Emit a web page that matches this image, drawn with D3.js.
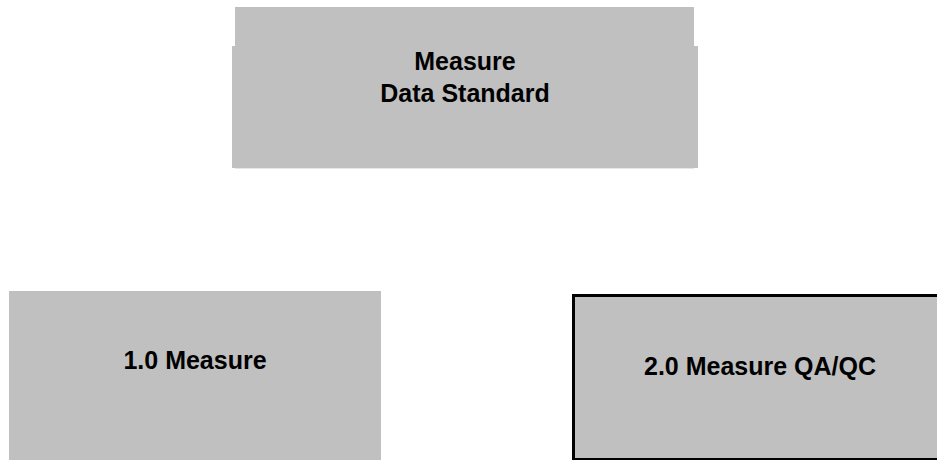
<!DOCTYPE html>
<html>
<head>
<meta charset="utf-8">
<script src="https://cdn.jsdelivr.net/npm/d3@7"></script>
<style>
  html, body { margin: 0; padding: 0; background: #fff; }
  svg { display: block; }
</style>
</head>
<body>
<svg id="chart"></svg>
<script>
// node data
var nodeIds = ["root", "measure", "qaqc"];
var nodeParents = [null, "root", "root"];
var nodeLabels = [["Measure", "Data Standard"], ["1.0 Measure"], ["2.0 Measure QA/QC"]];
var nodeOutlined = [false, false, true];

var w = 937, h = 460;
var fill = '#c0c0c0';

var rows = nodeIds.map(function(id, i) {
  return {id: id, parent: nodeParents[i], labels: nodeLabels[i], outlined: nodeOutlined[i]};
});

var root = d3.stratify()
    .id(function(d) { return d.id; })
    .parentId(function(d) { return d.parent; })(rows);

d3.tree().size([1, 1])(root);

// layout scales
var xExt = d3.extent(root.descendants(), function(d) { return d.x; });
var xScale = d3.scaleLinear()
    .domain([xExt[0], (xExt[0] + xExt[1]) / 2, xExt[1]])
    .range([195, 465, 760]);
var yScale = d3.scaleLinear().domain([0, 1]).range([46, 291]);
var boxW = [466, 372];
var boxH = [122, 180];

var svg = d3.select('#chart')
    .attr('width', w)
    .attr('height', h)
    .attr('font-family', '"Liberation Sans", Arial, sans-serif')
    .attr('font-weight', 'bold')
    .attr('font-size', 25)
    .attr('text-anchor', 'middle');

var nodes = svg.selectAll('g.node')
    .data(root.descendants())
    .enter()
    .append('g')
    .attr('class', 'node')
    .attr('transform', function(d) {
      return 'translate(' + xScale(d.x) + ',' + yScale(d.depth) + ')';
    });

// top tab on the root box
nodes.filter(function(d) { return d.depth == 0; })
    .append('rect')
    .attr('x', function(d) { return -boxW[d.depth] / 2 + 3; })
    .attr('y', -39)
    .attr('width', function(d) { return boxW[d.depth] - 7; })
    .attr('height', 40)
    .attr('fill', fill);

nodes.append('rect')
    .attr('x', function(d) { return -boxW[d.depth] / 2 + (d.data.outlined ? -0.5 : 0); })
    .attr('y', function(d) { return d.data.outlined ? 4.5 : 0; })
    .attr('width', function(d) { return d.data.outlined ? boxW[d.depth] + 10 : boxW[d.depth]; })
    .attr('height', function(d) { return d.data.outlined ? 164 : boxH[d.depth]; })
    .attr('fill', fill)
    .attr('stroke', function(d) { return d.data.outlined ? '#000' : 'none'; })
    .attr('stroke-width', 3);

// faint line under root box
nodes.filter(function(d) { return d.depth == 0; })
    .append('line')
    .attr('x1', function(d) { return -boxW[d.depth] / 2 + 3; })
    .attr('x2', function(d) { return boxW[d.depth] / 2 - 4; })
    .attr('y1', 122.5)
    .attr('y2', 122.5)
    .attr('stroke', '#e6e6e6');

nodes.each(function(d) {
  var g = d3.select(this);
  var base = d.depth == 0 ? 24 : (d.data.outlined ? 84 : 78);
  d.data.labels.forEach(function(t, i) {
    g.append('text')
      .attr('x', 0)
      .attr('y', base + i * 32)
      .attr('fill', '#000')
      .text(t);
  });
});
</script>
</body>
</html>
